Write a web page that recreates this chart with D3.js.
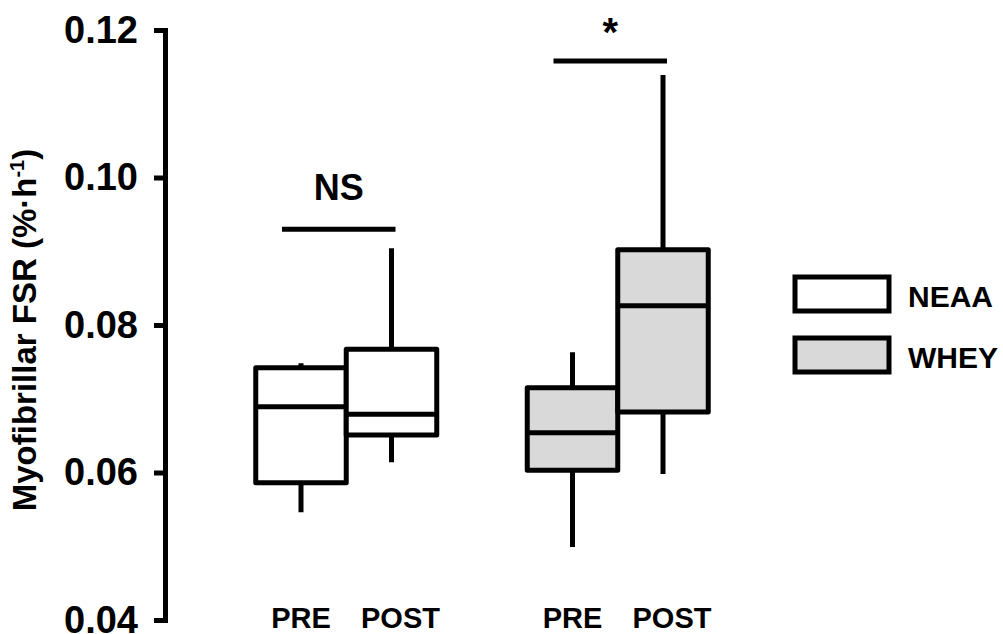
<!DOCTYPE html>
<html>
<head>
<meta charset="utf-8">
<script src="https://cdn.jsdelivr.net/npm/d3@7"></script>
<style>
  html, body { margin: 0; padding: 0; background: #fff; }
  svg { display: block; font-family: "Liberation Sans", Arial, sans-serif; font-weight: bold; }
</style>
</head>
<body>
<svg id="chart" width="1003" height="634"></svg>
<script>
// ---- data ----
const slots = ["NEAA PRE", "NEAA POST", "gap", "WHEY PRE", "WHEY POST"];
const boxKeys = ["NEAA PRE", "NEAA POST", "WHEY PRE", "WHEY POST"];
const boxGroup = ["NEAA", "NEAA", "WHEY", "WHEY"];
const xLabels = ["PRE", "POST", "PRE", "POST"];
const whiskerLow  = [0.0546, 0.0614, 0.0499, 0.0598];
const q1          = [0.0586, 0.0651, 0.0603, 0.0682];
const median      = [0.0689, 0.0679, 0.0654, 0.0826];
const q3          = [0.0742, 0.0767, 0.0715, 0.0902];
const whiskerHigh = [0.0748, 0.0904, 0.0763, 0.1139];
const yTicks = [0.04, 0.06, 0.08, 0.10, 0.12];
const groups = ["NEAA", "WHEY"];
const groupColors = ["#ffffff", "#d9d9d9"];
const sigLabels = ["NS", "*"];
const sigLevels = [0.0930, 0.1158];
const sigFrom = ["NEAA PRE", "WHEY PRE"];
const sigTo = ["NEAA POST", "WHEY POST"];

// ---- scales ----
const svg = d3.select("#chart");
const x = d3.scaleBand().domain(slots).range([255.75, 708.25]).padding(0);
const y = d3.scaleLinear().domain([0.04, 0.12]).range([620, 30]);
const color = d3.scaleOrdinal().domain(groups).range(groupColors);
const cx = k => x(k) + x.bandwidth() / 2;

// ---- y axis ----
const yAxis = d3.axisLeft(y).tickValues(yTicks).tickFormat(d3.format(".2f"))
  .tickSizeInner(11).tickSizeOuter(11).tickPadding(16);
const gy = svg.append("g").attr("transform", "translate(165,0)").call(yAxis);
gy.select(".domain").attr("stroke", "#000").attr("stroke-width", 5).attr("fill", "none");
gy.selectAll(".tick line").attr("stroke", "#000").attr("stroke-width", 5);
gy.selectAll(".tick text").attr("fill", "#000")
  .style("font-size", "38px").style("font-weight", "bold")
  .style("font-family", "'Liberation Sans', Arial, sans-serif");

// y label
const yl = svg.append("text")
  .attr("transform", "translate(36," + 330 + ") rotate(-90)")
  .attr("text-anchor", "middle")
  .style("font-size", "33px").attr("fill", "#000");
yl.append("tspan").text("Myofibrillar FSR (%·h");
yl.append("tspan").attr("dy", -12).style("font-size", "20px").text("-1");
yl.append("tspan").attr("dy", 12).text(")");

// ---- boxes ----
const data = boxKeys.map((k, i) => ({
  key: k, group: boxGroup[i], lo: whiskerLow[i], q1: q1[i], med: median[i], q3: q3[i], hi: whiskerHigh[i], label: xLabels[i]
}));

const g = svg.append("g");
// whiskers first
g.selectAll("line.wh").data(data).join("line").attr("class", "wh")
  .attr("x1", d => cx(d.key)).attr("x2", d => cx(d.key))
  .attr("y1", d => y(d.lo)).attr("y2", d => y(d.hi))
  .attr("stroke", "#000").attr("stroke-width", 5);
// boxes
g.selectAll("rect.box").data(data).join("rect").attr("class", "box")
  .attr("x", d => x(d.key)).attr("width", x.bandwidth())
  .attr("y", d => y(d.q3)).attr("height", d => y(d.q1) - y(d.q3))
  .attr("fill", d => color(d.group)).attr("stroke", "#000").attr("stroke-width", 5)
  .attr("stroke-linejoin", "round");
// medians
g.selectAll("line.med").data(data).join("line").attr("class", "med")
  .attr("x1", d => x(d.key)).attr("x2", d => x(d.key) + x.bandwidth())
  .attr("y1", d => y(d.med)).attr("y2", d => y(d.med))
  .attr("stroke", "#000").attr("stroke-width", 5);

// x labels
svg.selectAll("text.xl").data(data).join("text").attr("class", "xl")
  .attr("x", d => cx(d.key) + (d.label === "POST" ? 9 : 0)).attr("y", 628)
  .attr("text-anchor", "middle").style("font-size", "29px").attr("fill", "#000")
  .text(d => d.label);

// ---- significance ----
const sig = sigLabels.map((s, i) => ({ label: s, level: sigLevels[i], from: sigFrom[i], to: sigTo[i] }));
svg.selectAll("line.sig").data(sig).join("line").attr("class", "sig")
  .attr("x1", d => cx(d.from) - 19).attr("x2", d => cx(d.to) + 4)
  .attr("y1", d => y(d.level)).attr("y2", d => y(d.level))
  .attr("stroke", "#000").attr("stroke-width", 5);
svg.selectAll("text.sig").data(sig).join("text").attr("class", "sig")
  .attr("x", d => (cx(d.from) - 19 + cx(d.to) + 4) / 2)
  .attr("y", d => y(d.level) - (d.label === "*" ? 15 : 29))
  .attr("text-anchor", "middle")
  .style("font-size", d => d.label === "*" ? "40px" : "36px").attr("fill", "#000")
  .text(d => d.label);

// ---- legend ----
const lg = svg.append("g").attr("transform", "translate(795,277)");
const li = lg.selectAll("g").data(groups).join("g").attr("transform", (d, i) => `translate(0,${i * 61})`);
li.append("rect").attr("width", 94).attr("height", 34)
  .attr("fill", d => color(d)).attr("stroke", "#000").attr("stroke-width", 5);
li.append("text").attr("x", 113).attr("y", 30).style("font-size", "30px").attr("fill", "#000").text(d => d);
</script>
</body>
</html>
